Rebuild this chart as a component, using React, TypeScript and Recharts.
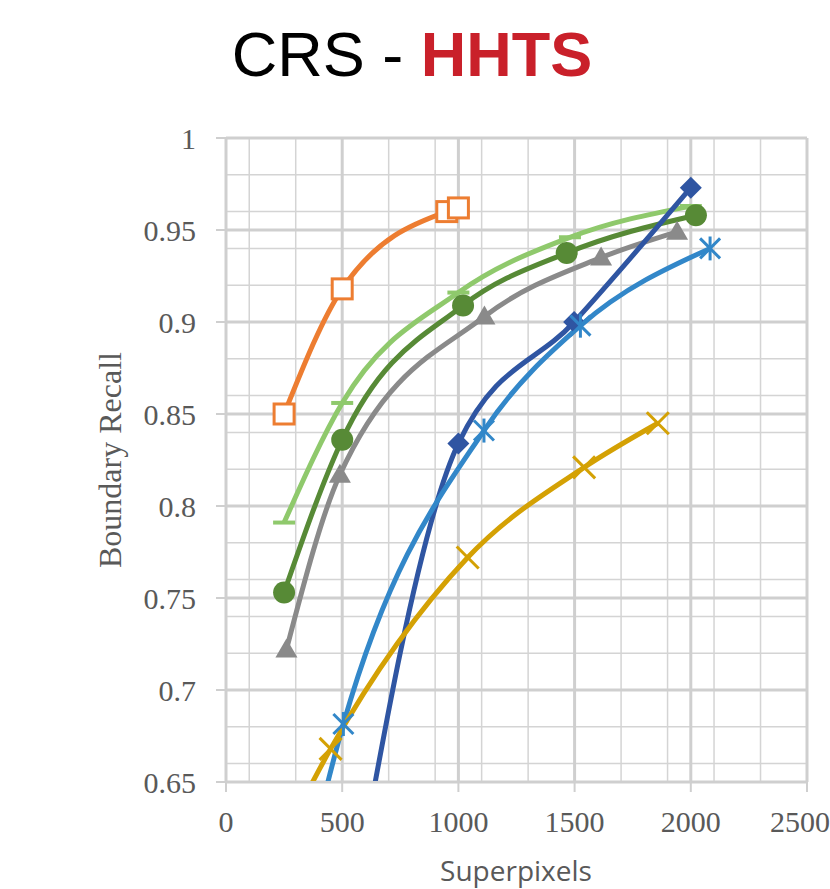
import React from 'react'
import { CartesianGrid, Line, LineChart, XAxis, YAxis } from 'recharts'

// tick labels
const xTicks = [0, 500, 1000, 1500, 2000, 2500]
const yTicks = [0.65, 0.7, 0.75, 0.8, 0.85, 0.9, 0.95, 1]

// series (superpixels -> boundary recall)
const orangeX = [250, 500, 950, 1000]
const orangeY = [0.85, 0.918, 0.96, 0.962]

const lightGreenX = [250, 500, 1000, 1480, 2000]
const lightGreenY = [0.791, 0.856, 0.916, 0.946, 0.963]

const darkGreenX = [250, 500, 1020, 1466, 2022]
const darkGreenY = [0.753, 0.836, 0.909, 0.9375, 0.958]

const grayX = [260, 490, 1112, 1614, 1941]
const grayY = [0.722, 0.817, 0.903, 0.935, 0.949]

const navyX = [500, 1000, 1498, 2000]
const navyY = [0.55, 0.834, 0.9, 0.973]

const blueX = [250, 505, 1110, 1525, 2083]
const blueY = [0.55, 0.6815, 0.841, 0.898, 0.94]

const goldX = [250, 450, 1040, 1541, 1858]
const goldY = [0.62, 0.668, 0.772, 0.821, 0.845]

const toPoints = (xs: number[], ys: number[]) => xs.map((x, i) => ({ x, y: ys[i] }))

const minorX: number[] = []
for (let v = 0; v <= 2500; v += 100) minorX.push(v)
const minorY: number[] = []
for (let i = 65; i <= 100; i++) minorY.push(i / 100)

const C = {
  orange: '#ed7d31',
  lightGreen: '#8fc96c',
  darkGreen: '#578a36',
  gray: '#8a8a8a',
  navy: '#2f55a2',
  blue: '#3287c9',
  gold: '#d4a104',
}

const ok = (p: any) => p && p.cx != null && p.cy != null

const squareDot = (p: any) =>
  ok(p) ? <rect key={p.index} x={p.cx - 10} y={p.cy - 10} width={20} height={20} fill="#fff" stroke={C.orange} strokeWidth={3} /> : <g key={p.index} />

const dashDot = (p: any) =>
  ok(p) ? <line key={p.index} x1={p.cx - 11} x2={p.cx + 11} y1={p.cy} y2={p.cy} stroke={C.lightGreen} strokeWidth={4} /> : <g key={p.index} />

const circleDot = (p: any) =>
  ok(p) ? <circle key={p.index} cx={p.cx} cy={p.cy} r={11} fill={C.darkGreen} /> : <g key={p.index} />

const triDot = (p: any) =>
  ok(p) ? (
    <path key={p.index} d={`M${p.cx},${p.cy - 11} L${p.cx + 11},${p.cy + 8} L${p.cx - 11},${p.cy + 8} Z`} fill={C.gray} />
  ) : <g key={p.index} />

const diamondDot = (p: any) =>
  ok(p) ? (
    <path key={p.index} d={`M${p.cx},${p.cy - 11} L${p.cx + 11},${p.cy} L${p.cx},${p.cy + 11} L${p.cx - 11},${p.cy} Z`} fill={C.navy} />
  ) : <g key={p.index} />

const starDot = (p: any) =>
  ok(p) ? (
    <g key={p.index} stroke={C.blue} strokeWidth={3}>
      <line x1={p.cx - 10} y1={p.cy - 10} x2={p.cx + 10} y2={p.cy + 10} />
      <line x1={p.cx - 10} y1={p.cy + 10} x2={p.cx + 10} y2={p.cy - 10} />
      <line x1={p.cx} y1={p.cy - 12} x2={p.cx} y2={p.cy + 12} />
    </g>
  ) : <g key={p.index} />

const crossDot = (p: any) =>
  ok(p) ? (
    <g key={p.index} stroke={C.gold} strokeWidth={3}>
      <line x1={p.cx - 11} y1={p.cy - 11} x2={p.cx + 11} y2={p.cy + 11} />
      <line x1={p.cx - 11} y1={p.cy + 11} x2={p.cx + 11} y2={p.cy - 11} />
    </g>
  ) : <g key={p.index} />

const tickStyle = { fontFamily: '"Liberation Serif", serif', fontSize: 30, fill: '#595959' }

export default function App() {
  return (
    <div style={{ position: 'absolute', left: 0, top: 0, width: 830, height: 889, background: '#fff' }}>
      <div
        style={{
          position: 'absolute',
          left: 0,
          top: 23,
          width: 824,
          textAlign: 'center',
          fontFamily: '"Liberation Sans", Arial, sans-serif',
          fontSize: 63,
          lineHeight: '63px',
          color: '#000',
        }}
      >
        CRS - <span style={{ color: '#c9202a', fontWeight: 'bold' }}>HHTS</span>
      </div>
      <LineChart width={830} height={889} margin={{ top: 138, right: 23, left: 96, bottom: 7 }}>
        <CartesianGrid stroke="#d4d4d4" strokeWidth={1.5} verticalValues={minorX} horizontalValues={minorY} />
        <CartesianGrid stroke="#cfcfcf" strokeWidth={3} verticalValues={xTicks} horizontalValues={yTicks} />
        <XAxis
          type="number"
          dataKey="x"
          domain={[0, 2500]}
          ticks={xTicks}
          height={100}
          tickSize={10}
          tickMargin={19}
          stroke="#cfcfcf"
          strokeWidth={2}
          tick={tickStyle}
          label={{
            content: () => (
              <text x={516} y={881} textAnchor="middle" fontFamily='"Open Sans", sans-serif' fontSize={28} fill="#595959">
                Superpixels
              </text>
            ),
          }}
        />
        <YAxis
          type="number"
          dataKey="y"
          domain={[0.65, 1]}
          allowDataOverflow
          ticks={yTicks}
          width={130}
          tickSize={10}
          tickMargin={20}
          stroke="#cfcfcf"
          strokeWidth={2}
          tick={tickStyle}
          label={{
            content: () => (
              <text
                x={121}
                y={460}
                transform="rotate(-90 121 460)"
                textAnchor="middle"
                fontFamily='"Liberation Serif", serif'
                fontSize={32}
                fill="#595959"
              >
                Boundary Recall
              </text>
            ),
          }}
        />
        <Line data={toPoints(orangeX, orangeY)} dataKey="y" type="monotone" stroke={C.orange} strokeWidth={5} dot={squareDot} isAnimationActive={false} />
        <Line data={toPoints(grayX, grayY)} dataKey="y" type="monotone" stroke={C.gray} strokeWidth={5} dot={triDot} isAnimationActive={false} />
        <Line data={toPoints(lightGreenX, lightGreenY)} dataKey="y" type="monotone" stroke={C.lightGreen} strokeWidth={5} dot={dashDot} isAnimationActive={false} />
        <Line data={toPoints(darkGreenX, darkGreenY)} dataKey="y" type="monotone" stroke={C.darkGreen} strokeWidth={5} dot={circleDot} isAnimationActive={false} />
        <Line data={toPoints(navyX, navyY)} dataKey="y" type="monotone" stroke={C.navy} strokeWidth={5} dot={diamondDot} isAnimationActive={false} />
        <Line data={toPoints(blueX, blueY)} dataKey="y" type="monotone" stroke={C.blue} strokeWidth={5} dot={starDot} isAnimationActive={false} />
        <Line data={toPoints(goldX, goldY)} dataKey="y" type="monotone" stroke={C.gold} strokeWidth={5} dot={crossDot} isAnimationActive={false} />
      </LineChart>
    </div>
  )
}
